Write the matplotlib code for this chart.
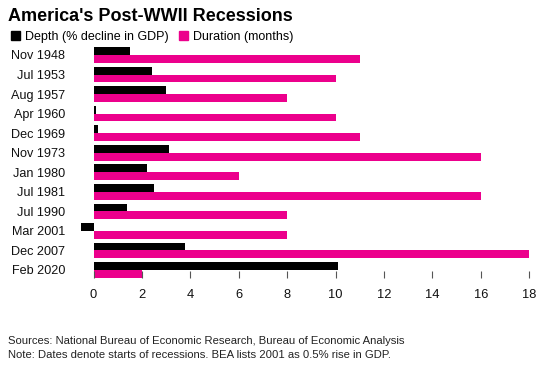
import matplotlib
matplotlib.use("Agg")
import matplotlib.pyplot as plt
from matplotlib.patches import Patch

plt.rcParams['font.family'] = ['Liberation Sans', 'DejaVu Sans']

recessions = ["Nov 1948", "Jul 1953", "Aug 1957", "Apr 1960", "Dec 1969", "Nov 1973",
              "Jan 1980", "Jul 1981", "Jul 1990", "Mar 2001", "Dec 2007", "Feb 2020"]
depth = [1.5, 2.4, 3.0, 0.1, 0.2, 3.1, 2.2, 2.5, 1.4, -0.5, 3.8, 10.1]
duration = [11, 10, 8, 10, 11, 16, 6, 16, 8, 8, 18, 2]
xticks = [0, 2, 4, 6, 8, 10, 12, 14, 16, 18]

BLACK = "#000000"
PINK = "#ec008c"

fig = plt.figure(figsize=(5.5, 3.69), dpi=100)
ax = fig.add_axes([0.1436, 0.2472, 0.8404, 0.6303])

y = list(range(len(recessions)))
h = 0.4
ax.barh([v - h / 2 for v in y], depth, height=h, color=BLACK)
ax.barh([v + h / 2 for v in y], duration, height=h, color=PINK)

ax.set_ylim(11.4, -0.5)
ax.set_xlim(-0.6, 18.5)
ax.set_yticks(y)
ax.set_yticklabels(recessions, fontsize=9.1, color="#111111")
ax.set_xticks(xticks)
ax.set_xticklabels([str(t) for t in xticks], fontsize=9.3, color="#111111")
ax.tick_params(axis='y', length=0, pad=10)
ax.tick_params(axis='x', direction='in', length=5, width=0.8, color="#555555", pad=8)
for s in ax.spines.values():
    s.set_visible(False)

fig.text(0.015, 0.955, "America's Post-WWII Recessions", fontsize=13, fontweight='bold',
         ha='left', va='center')
handles = [Patch(color=BLACK, label="Depth (% decline in GDP)"),
           Patch(color=PINK, label="Duration (months)")]
fig.legend(handles=handles, loc='center left', bbox_to_anchor=(0.004, 0.9), ncol=2,
           frameon=False, fontsize=9, handlelength=0.7, handleheight=0.7,
           handletextpad=0.45, columnspacing=0.8, borderpad=0.2)

fig.text(0.015, 0.076, "Sources: National Bureau of Economic Research, Bureau of Economic Analysis",
         fontsize=8.1, ha='left', va='center', color="#222222")
fig.text(0.015, 0.038, "Note: Dates denote starts of recessions. BEA lists 2001 as 0.5% rise in GDP.",
         fontsize=8.1, ha='left', va='center', color="#222222")

fig.savefig("out.png", dpi=100)
